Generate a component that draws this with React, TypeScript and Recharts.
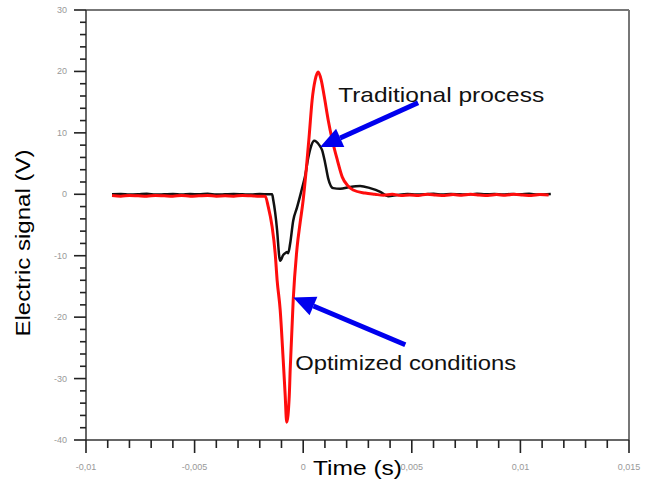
import { LineChart, Line, XAxis, YAxis, ReferenceLine, ReferenceDot, Label } from 'recharts'

// time in ms, signal in V
const redTimeMs = [
  -8.8, -8.4, -8.0, -7.6, -7.2, -6.8, -6.4, -6.0, -5.6, -5.2, -4.8, -4.4, -4.0, -3.6, -3.2, -2.8, -2.4, -2.0,
  -1.75, -1.61, -1.43, -1.29, -1.2, -1.06, -0.92, -0.83, -0.76, -0.64, -0.6, -0.46, -0.28, -0.14, 0, 0.14,
  0.28, 0.41, 0.55, 0.69, 0.83, 0.97, 1.15, 1.34, 1.57, 1.8, 2.03, 2.3, 2.85, 3.3, 3.7, 4.1, 4.5, 4.9, 5.3,
  5.7, 6.1, 6.5, 6.9, 7.3, 7.7, 8.1, 8.5, 8.9, 9.3, 9.7, 10.1, 10.5, 10.9, 11.3,
]
const redSignal = [
  -0.2, -0.3, -0.2, -0.25, -0.3, -0.2, -0.25, -0.3, -0.2, -0.3, -0.25, -0.2, -0.3, -0.25, -0.3, -0.2, -0.25, -0.3,
  -0.3, -2.0, -5.3, -9.6, -14.0, -18.8, -27.0, -32.7, -37.1, -32.7, -28.6, -17.2, -8.6, -4.6, -0.9, 4.0,
  9.7, 15.3, 18.6, 19.9, 18.6, 15.9, 12.1, 8.8, 5.6, 2.8, 1.5, 0.7, 0.2, 0.0, -0.15, 0.0, -0.2, -0.1, -0.2,
  0.0, -0.1, -0.2, -0.05, -0.15, 0.0, -0.1, -0.2, -0.05, -0.15, 0.0, -0.1, -0.2, -0.05, -0.1,
]

const blackTimeMs = [
  -8.8, -8.4, -8.0, -7.6, -7.2, -6.8, -6.4, -6.0, -5.6, -5.2, -4.8, -4.4, -4.0, -3.6, -3.2, -2.8, -2.4, -2.0,
  -1.6, -1.43, -1.38, -1.29, -1.2, -1.1, -1.06, -0.92, -0.83, -0.74, -0.69, -0.6, -0.46, -0.28, -0.05, 0.09,
  0.23, 0.37, 0.51, 0.74, 0.87, 1.01, 1.15, 1.38, 1.7, 2.16, 2.62, 3.08, 3.55, 3.91, 4.33, 4.8, 5.2, 5.6,
  6.0, 6.4, 6.8, 7.2, 7.6, 8.0, 8.4, 8.8, 9.2, 9.6, 10.0, 10.4, 10.8, 11.4,
]
const blackSignal = [
  0.0, 0.05, -0.05, 0.0, 0.1, -0.05, 0.0, 0.05, -0.05, 0.05, 0.0, 0.1, -0.05, 0.0, 0.05, 0.0, -0.05, 0.05,
  0.0, 0.0, -0.9, -3.0, -5.9, -10.2, -10.8, -9.9, -9.6, -9.4, -9.6, -8.0, -4.3, -2.1, 1.0, 3.0,
  5.9, 7.9, 8.7, 8.0, 7.2, 5.1, 2.6, 1.0, 0.9, 1.2, 1.35, 1.0, 0.4, -0.3, -0.1, 0.05, -0.05, 0.0,
  0.1, -0.05, 0.05, 0.0, -0.05, 0.1, 0.0, 0.05, -0.05, 0.05, 0.0, 0.1, -0.05, 0.05,
]

const xTicksMs = [-10, -9, -8, -7, -6, -5, -4, -3, -2, -1, 0, 1, 2, 3, 4, 5, 6, 7, 8, 9, 10, 11, 12, 13, 14, 15]
const xMajorMs = [-10, -5, 0, 5, 10, 15]
const xMajorLabels = ['-0,01', '-0,005', '0', '0,005', '0,01', '0,015']
const yTicks = [
  -40, -38, -36, -34, -32, -30, -28, -26, -24, -22, -20, -18, -16, -14, -12, -10, -8, -6, -4, -2,
  0, 2, 4, 6, 8, 10, 12, 14, 16, 18, 20, 22, 24, 26, 28, 30,
]

const redData = redTimeMs.map((t, i) => ({ t: t / 1000, v: redSignal[i] }))
const blackData = blackTimeMs.map((t, i) => ({ t: t / 1000, v: blackSignal[i] }))

const FONT = '"Liberation Sans", Arial, sans-serif'

const XTick = (props: any) => {
  const { x, y, payload } = props
  const ms = Math.round(payload.value * 1000)
  const idx = xMajorMs.indexOf(ms)
  const major = idx >= 0
  return (
    <g>
      <path d={`M${x},${y}V${y + (major ? 13 : 8)}`} stroke="#222" strokeWidth={1.6} fill="none" />
      {major && (
        <text x={x} y={y + 30} textAnchor="middle" fontSize={9} fill="#999" stroke="none" fontFamily={FONT}>
          {xMajorLabels[idx]}
        </text>
      )}
    </g>
  )
}

const YTick = (props: any) => {
  const { x, y, payload } = props
  const major = payload.value % 10 === 0
  return (
    <g>
      <path d={`M${x},${y}H${x - (major ? 12 : 6)}`} stroke="#222" strokeWidth={1.6} fill="none" />
      {major && (
        <text x={x - 19} y={y + 3} textAnchor="end" fontSize={9} fill="#999" stroke="none" fontFamily={FONT}>
          {payload.value}
        </text>
      )}
    </g>
  )
}

const Arrow = (props: any) => {
  const { x1, y1, x2, y2 } = props
  const ang = Math.atan2(y2 - y1, x2 - x1)
  const len = 22
  const half = 10
  const bx = x2 - len * Math.cos(ang)
  const by = y2 - len * Math.sin(ang)
  const px = -Math.sin(ang) * half
  const py = Math.cos(ang) * half
  return (
    <g>
      <line x1={x1} y1={y1} x2={bx} y2={by} stroke="#0000ee" strokeWidth={5} />
      <polygon points={`${x2},${y2} ${bx + px},${by + py} ${bx - px},${by - py}`} fill="#0000ee" />
    </g>
  )
}

const note = (text: string, width: number) => (p: any) => (
  <text
    x={p.cx}
    y={p.cy}
    fontSize={21}
    fontFamily={FONT}
    fill="#111"
    textLength={width}
    lengthAdjust="spacingAndGlyphs"
  >
    {text}
  </text>
)

const XTitle = (props: any) => {
  const { x, y, width } = props.viewBox
  return (
    <text x={x + width / 2} y={y + 35} textAnchor="middle" fontSize={20} fontFamily={FONT} fill="#000"
      textLength={89} lengthAdjust="spacingAndGlyphs">
      Time (s)
    </text>
  )
}

const YTitle = (props: any) => {
  const { x, y, height } = props.viewBox
  const cx = x + 4
  const cy = y + height / 2 + 18
  return (
    <text x={cx} y={cy} transform={`rotate(-90, ${cx}, ${cy})`} textAnchor="middle" fontSize={21}
      fontFamily={FONT} fill="#000" textLength={187} lengthAdjust="spacingAndGlyphs">
      Electric signal (V)
    </text>
  )
}

export default function App() {
  return (
    <div style={{ position: 'absolute', left: 0, top: 0, width: 654, height: 484, background: '#fff' }}>
      <LineChart width={654} height={484} margin={{ top: 10, right: 25, bottom: 14, left: 26 }}>
        <XAxis
          type="number"
          dataKey="t"
          domain={[-0.01, 0.015]}
          ticks={xTicksMs.map((m) => m / 1000)}
          interval={0}
          tick={<XTick />}
          tickLine={false}
          tickSize={0}
          tickMargin={0}
          height={30}
          stroke="#333"
          strokeWidth={1.5}
          allowDataOverflow
        >
          <Label content={<XTitle />} />
        </XAxis>
        <YAxis
          type="number"
          domain={[-40, 30]}
          ticks={yTicks}
          interval={0}
          tick={<YTick />}
          tickLine={false}
          tickSize={0}
          tickMargin={0}
          width={60}
          stroke="#333"
          strokeWidth={1.5}
          allowDataOverflow
        >
          <Label content={<YTitle />} />
        </YAxis>
        <ReferenceLine y={30} stroke="#777" strokeWidth={2} />
        <ReferenceLine x={0.015} stroke="#777" strokeWidth={2} />
        <Line
          data={blackData}
          dataKey="v"
          type="monotone"
          stroke="#111"
          strokeWidth={2.5}
          dot={false}
          isAnimationActive={false}
        />
        <Line
          data={redData}
          dataKey="v"
          type="monotone"
          stroke="#ff0d0d"
          strokeWidth={3}
          dot={false}
          isAnimationActive={false}
        />
        <ReferenceLine segment={[{ x: 0.00529, y: 14.9 }, { x: 0.00078, y: 7.7 }]} shape={<Arrow />} />
        <ReferenceLine segment={[{ x: 0.0047, y: -24.5 }, { x: -0.00046, y: -16.8 }]} shape={<Arrow />} />
        <ReferenceDot x={0.00161} y={15.0} r={0} shape={note('Traditional process', 206)} />
        <ReferenceDot x={-0.00037} y={-28.6} r={0} shape={note('Optimized conditions', 221)} />
      </LineChart>
    </div>
  )
}
